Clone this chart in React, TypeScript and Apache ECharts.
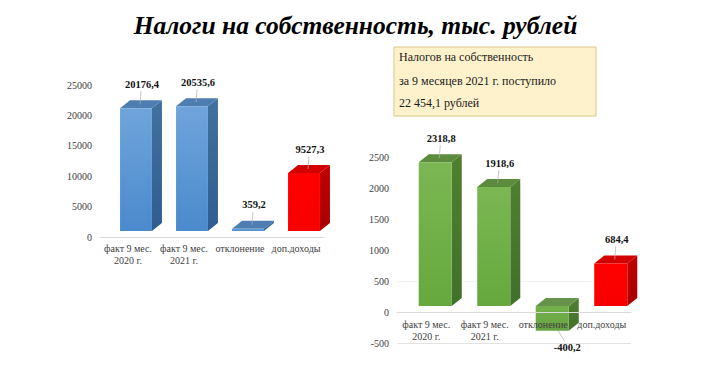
import React, { useEffect, useRef } from 'react';
import * as echarts from 'echarts';

const categories = ['факт 9 мес.\n2020 г.', 'факт 9 мес.\n2021 г.', 'отклонение', 'доп.доходы'];
const leftValues = [20176.4, 20535.6, 359.2, 9527.3];
const rightValues = [2318.8, 1918.6, -400.2, 684.4];
const leftAxis = { min: 0, max: 25000, interval: 5000 };
const rightAxis = { min: -500, max: 2500, interval: 500 };
const titleText = 'Налоги на собственность, тыс. рублей';
const noteLines = ['Налогов на собственность', 'за 9 месяцев 2021 г. поступило', '22 454,1 рублей'];

const SERIF = 'Liberation Serif, serif';
const DX = 10;
const DY = -8;
const SHIFT_Y = -6;
const RIGHT_GRID_H = 186;

type Pal = { front: [string, string]; side: [string, string]; top: string };
const blue: Pal = { front: ['#6fa4db', '#4b8acd'], side: ['#42719f', '#2f5d90'], top: '#4e7db1' };
const red: Pal = { front: ['#ff0000', '#f80000'], side: ['#c00000', '#a80000'], top: '#d20000' };
const green: Pal = { front: ['#7bb753', '#66a83d'], side: ['#4f8030', '#40702a'], top: '#5b8b3c' };
const greenNeg: Pal = { front: ['#74b04b', '#67a342'], side: ['#4f8030', '#42702a'], top: '#66934a' };

const leftPal = [blue, blue, blue, red];
const rightPal = [green, green, greenNeg, red];

function fmt(v: number) {
  return String(v).replace('.', ',');
}

function grad(a: string, b: string) {
  return new echarts.graphic.LinearGradient(0, 0, 0, 1, [
    { offset: 0, color: a },
    { offset: 1, color: b },
  ]);
}

function makeRender(pal: Pal[], shiftX: number, ratio: number) {
  return (params: any, api: any) => {
    const idx = api.value(0) as number;
    const v = api.value(1) as number;
    const p0 = api.coord([idx, 0]);
    const p1 = api.coord([idx, v]);
    const bw = api.size([1, 0])[0] * ratio;
    const fc = p0[0] + shiftX;
    const x0 = fc - bw / 2;
    const x1 = fc + bw / 2;
    const yb = p0[1] + SHIFT_Y;
    const yv = p1[1] + SHIFT_Y;
    const top = Math.min(yb, yv);
    const bot = Math.max(yb, yv);
    const c = pal[idx];
    const children: any[] = [
      {
        type: 'polygon',
        shape: { points: [[x1, top], [x1 + DX, top + DY], [x1 + DX, bot + DY], [x1, bot]] },
        style: { fill: grad(c.side[0], c.side[1]) },
      },
      {
        type: 'polygon',
        shape: { points: [[x0, top], [x0 + DX, top + DY], [x1 + DX, top + DY], [x1, top]] },
        style: { fill: c.top },
      },
      {
        type: 'rect',
        shape: { x: x0, y: top, width: bw, height: Math.max(bot - top, 0.5) },
        style: { fill: grad(c.front[0], c.front[1]) },
      },
    ];
    let lx: number, ly: number, l0: number[], l1: number[];
    if (v >= 0) {
      lx = fc + 6;
      ly = top - 24;
      l0 = [lx - 1, ly + 7];
      l1 = [fc + 4, top - 4];
    } else {
      lx = fc + 15;
      ly = bot + 17;
      l0 = [fc + 6, bot];
      l1 = [lx - 3, ly - 7];
    }
    children.push({
      type: 'line',
      shape: { x1: l0[0], y1: l0[1], x2: l1[0], y2: l1[1] },
      style: { stroke: '#b0b0b0', lineWidth: 0.7 },
    });
    children.push({
      type: 'text',
      style: {
        text: fmt(v),
        x: lx,
        y: ly,
        align: 'center',
        verticalAlign: 'middle',
        fill: '#111111',
        fontFamily: SERIF,
        fontWeight: 'bold',
        fontSize: 10.5,
      },
    });
    return { type: 'group', children };
  };
}

export default function App() {
  const ref = useRef<HTMLDivElement>(null);
  useEffect(() => {
    if (!ref.current) return;
    const chart = echarts.init(ref.current, null, { renderer: 'svg' });
    const axisLabelStyle = { fontFamily: SERIF, fontSize: 10, color: '#404040' };
    const zeroOffset = (RIGHT_GRID_H * (0 - rightAxis.min)) / (rightAxis.max - rightAxis.min);
    chart.setOption({
      animation: false,
      backgroundColor: '#ffffff',
      textStyle: { fontFamily: SERIF },
      grid: [
        { left: 100, top: 85, width: 224, height: 152, containLabel: false, outerBoundsMode: 'none' },
        { left: 397, top: 157, width: 234, height: RIGHT_GRID_H, containLabel: false, outerBoundsMode: 'none' },
      ],
      xAxis: [
        {
          type: 'category',
          gridIndex: 0,
          data: categories,
          axisTick: { show: false },
          axisLine: { lineStyle: { color: '#d9d9d9' } },
          axisLabel: { ...axisLabelStyle, margin: 5, lineHeight: 12, interval: 0 },
        },
        {
          type: 'category',
          gridIndex: 1,
          data: categories,
          offset: -zeroOffset,
          z: 5,
          axisTick: { show: false },
          axisLine: { onZero: false, lineStyle: { color: '#d9d9d9' } },
          axisLabel: { ...axisLabelStyle, margin: 6, lineHeight: 12, interval: 0 },
        },
      ],
      yAxis: [
        {
          type: 'value',
          gridIndex: 0,
          ...leftAxis,
          axisLine: { show: false },
          axisTick: { show: false },
          splitLine: { show: false },
          axisLabel: { ...axisLabelStyle, margin: 8, formatter: (v: number) => String(v) },
        },
        {
          type: 'value',
          gridIndex: 1,
          ...rightAxis,
          axisLine: { show: false },
          axisTick: { show: false },
          splitLine: {
            show: true,
            lineStyle: { color: ['#e2e2e2', '#ffffff', '#f3f3f3', '#ffffff', '#ffffff', '#ffffff', '#ffffff'] },
          },
          axisLabel: { ...axisLabelStyle, margin: 8, formatter: (v: number) => String(v) },
        },
      ],
      series: [
        {
          type: 'custom',
          xAxisIndex: 0,
          yAxisIndex: 0,
          renderItem: makeRender(leftPal, 8, 0.57),
          data: leftValues.map((v, i) => [i, v]),
          encode: { x: 0, y: 1 },
          clip: false,
          z: 2,
        },
        {
          type: 'custom',
          xAxisIndex: 1,
          yAxisIndex: 1,
          renderItem: makeRender(rightPal, 9, 0.565),
          data: rightValues.map((v, i) => [i, v]),
          encode: { x: 0, y: 1 },
          clip: false,
          z: 2,
        },
      ],
      graphic: [
        {
          type: 'text',
          x: 355.5,
          y: 25,
          style: {
            text: titleText,
            align: 'center',
            verticalAlign: 'middle',
            fontFamily: SERIF,
            fontStyle: 'italic',
            fontWeight: 'bold',
            fontSize: 25.5,
            fill: '#000000',
          },
        },
        {
          type: 'rect',
          shape: { x: 394, y: 47, width: 202, height: 69 },
          style: { fill: '#fef2cc', stroke: '#d8c68c', lineWidth: 1 },
        },
        ...noteLines.map((t, i) => ({
          type: 'text',
          x: 399,
          y: [57, 81, 103][i],
          style: {
            text: t,
            align: 'left',
            verticalAlign: 'middle',
            fontFamily: SERIF,
            fontSize: 12,
            fill: '#1a1a1a',
          },
        })),
      ],
    });
    return () => chart.dispose();
  }, []);
  return (
    <div
      ref={ref}
      style={{ position: 'absolute', left: 0, top: 0, width: 711, height: 365, background: '#fff' }}
    />
  );
}
